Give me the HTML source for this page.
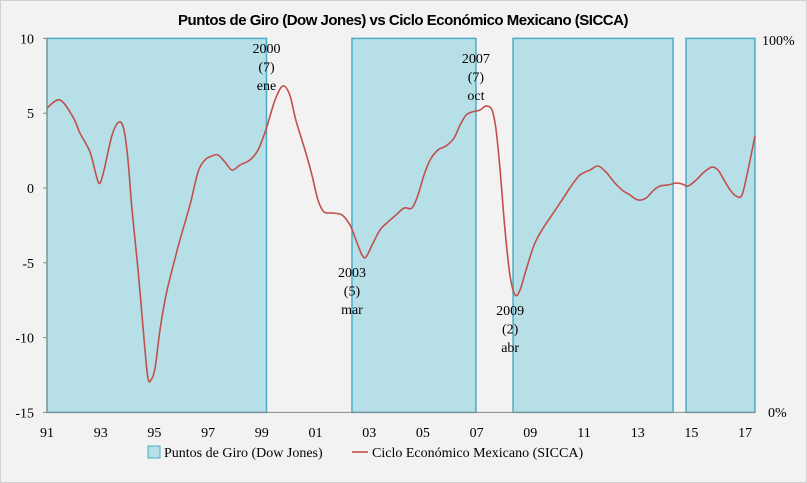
<!DOCTYPE html>
<html><head><meta charset="utf-8"><style>
body{margin:0;background:#f2f2f2}
svg{display:block}
.s{font-family:"Liberation Serif",serif;font-size:14px;fill:#000}
</style></head><body>
<svg width="807" height="483" xmlns="http://www.w3.org/2000/svg">
<rect x="0.5" y="0.5" width="806" height="482" fill="#f2f2f2" stroke="#d0d0d0"/>
<text x="403" y="25" text-anchor="middle" font-family="Liberation Sans,sans-serif" font-weight="bold" font-size="15" letter-spacing="-0.5">Puntos de Giro (Dow Jones) vs Ciclo Económico Mexicano (SICCA)</text>
<g id="shade"></g>
<g id="axes"></g>
<path id="line" fill="none" stroke="#c0504d" stroke-width="1.6"/>
<g id="ann"></g>
<g>
<rect x="148" y="446" width="12" height="12" fill="#b7dfe8" stroke="#4bacc6"/>
<text class="s" x="164" y="457">Puntos de Giro (Dow Jones)</text>
<line x1="352" y1="452" x2="368" y2="452" stroke="#c0504d" stroke-width="1.6"/>
<text class="s" x="372" y="457">Ciclo Económico Mexicano (SICCA)</text>
</g>
</svg>
<script>
// months since Jan 1991
const months=[0,5.8,11.6,14.7,19.2,22.3,23.7,25.5,29.1,32.2,34.4,36.2,38,40.7,43.4,45.1,46.5,48.3,50.5,53.2,55.9,59.4,63.9,67.5,70.6,73.7,76.4,79.5,82.7,86.3,90.7,94.3,97.8,101.9,105.4,108.5,111.2,115.3,118.4,121.1,123.8,127.4,131.8,135.4,138.1,140.8,142.6,145.3,148.8,152.4,156,159.6,163.1,165.8,168.5,171.2,174.7,178.3,181.9,184.6,187.3,189.9,193.5,196.2,198.9,200.7,202.5,204.7,206.9,209.2,211.4,214.1,217.7,221.2,225.7,230.2,234.6,238.2,242.7,246.3,249.8,253.4,257,260.6,264.1,267.7,271.3,274,277.5,281.1,283.8,286.5,290.1,293.7,297.2,299.9,302.6,305.3,307.9,310.6,313.3,316.4];
const values=[5.35,5.88,4.75,3.68,2.41,0.67,0.33,1.2,3.54,4.41,3.88,1.87,-1.47,-5.48,-10.16,-12.7,-12.83,-12.03,-9.49,-7.15,-5.48,-3.48,-1.14,1.07,1.87,2.14,2.21,1.74,1.2,1.54,1.87,2.54,3.88,5.88,6.82,6.22,4.55,2.54,0.87,-0.8,-1.6,-1.67,-1.8,-2.47,-3.48,-4.48,-4.61,-3.81,-2.81,-2.27,-1.8,-1.34,-1.34,-0.47,0.87,1.87,2.54,2.81,3.34,4.21,4.88,5.08,5.21,5.48,5.21,3.88,1.2,-2.81,-5.82,-7.15,-6.82,-5.48,-3.81,-2.81,-1.8,-0.8,0.2,0.87,1.2,1.47,1.07,0.4,-0.13,-0.47,-0.8,-0.67,-0.13,0.13,0.2,0.33,0.27,0.13,0.53,1.07,1.4,1.2,0.53,-0.13,-0.53,-0.47,1.2,3.48];
const shadeStart=[0,136.3,208.3,285.6];
const shadeEnd=[98.1,191.7,279.8,316.4];
const yTicks=[10,5,0,-5,-10,-15];
const xTickLabels=["91","93","95","97","99","01","03","05","07","09","11","13","15","17"];
const annYears=["2000","2003","2007","2009"];
const annNums=["(7)","(5)","(7)","(2)"];
const annMonths=["ene","mar","oct","abr"];
const annAt=[98.1,136.3,191.7,207];
const annAbove=[true,false,true,false];
const annY=[48,272,58,310];

const X0=47,PX=2.2375,Y0=188,PY=14.96;
const xs=m=>X0+m*PX, ys=v=>Y0-v*PY;
const NS="http://www.w3.org/2000/svg";
function mk(t,a,p){const e=document.createElementNS(NS,t);for(const k in a)e.setAttribute(k,a[k]);p.appendChild(e);return e;}
const shade=document.getElementById('shade');
shadeStart.forEach((s,i)=>{
 const r=mk('rect',{x:xs(s),y:ys(10),width:xs(shadeEnd[i])-xs(s),height:ys(-15)-ys(10),fill:'#b7dfe8',stroke:'#4bacc6','stroke-width':1.5},shade);
 
 
});
const ax=document.getElementById('axes');
const la=mk('line',{x1:X0,y1:ys(10),x2:X0,y2:ys(-15),stroke:'#888'},ax);

const lb=mk('line',{x1:X0,y1:ys(-15),x2:xs(316.4),y2:ys(-15),stroke:'#888'},ax);

yTicks.forEach(v=>{
 mk('line',{x1:X0-4,y1:ys(v),x2:X0,y2:ys(v),stroke:'#888'},ax);
 const t=mk('text',{x:34,y:ys(v)+5,'text-anchor':'end',class:'s'},ax);t.textContent=v;
 
});
xTickLabels.forEach((l,i)=>{
 const t=mk('text',{x:xs(i*24),y:437,'text-anchor':'middle',class:'s'},ax);t.textContent=l;
 
});
const r1=mk('text',{x:762,y:45,class:'s'},ax);r1.textContent='100%';

const r2=mk('text',{x:768,y:417,class:'s'},ax);r2.textContent='0%';

// smooth line
const P=months.map((m,i)=>[xs(m),ys(values[i])]);
let d='M'+P[0][0]+','+P[0][1];
for(let i=0;i<P.length-1;i++){
 const p0=P[Math.max(0,i-1)],p1=P[i],p2=P[i+1],p3=P[Math.min(P.length-1,i+2)];
 const c1=[p1[0]+(p2[0]-p0[0])/6,p1[1]+(p2[1]-p0[1])/6],c2=[p2[0]-(p3[0]-p1[0])/6,p2[1]-(p3[1]-p1[1])/6];
 d+=`C${c1[0]},${c1[1]} ${c2[0]},${c2[1]} ${p2[0]},${p2[1]}`;
}
document.getElementById('line').setAttribute('d',d);
const ann=document.getElementById('ann');
annYears.forEach((y,i)=>{
 const g=mk('g',{},ann);
 
 
 [y,annNums[i],annMonths[i]].forEach((s,j)=>{
  const t=mk('text',{x:xs(annAt[i]),y:annY[i]+5+j*18.5,'text-anchor':'middle',class:'s'},g);t.textContent=s;
 });
});
</script>
</body></html>
